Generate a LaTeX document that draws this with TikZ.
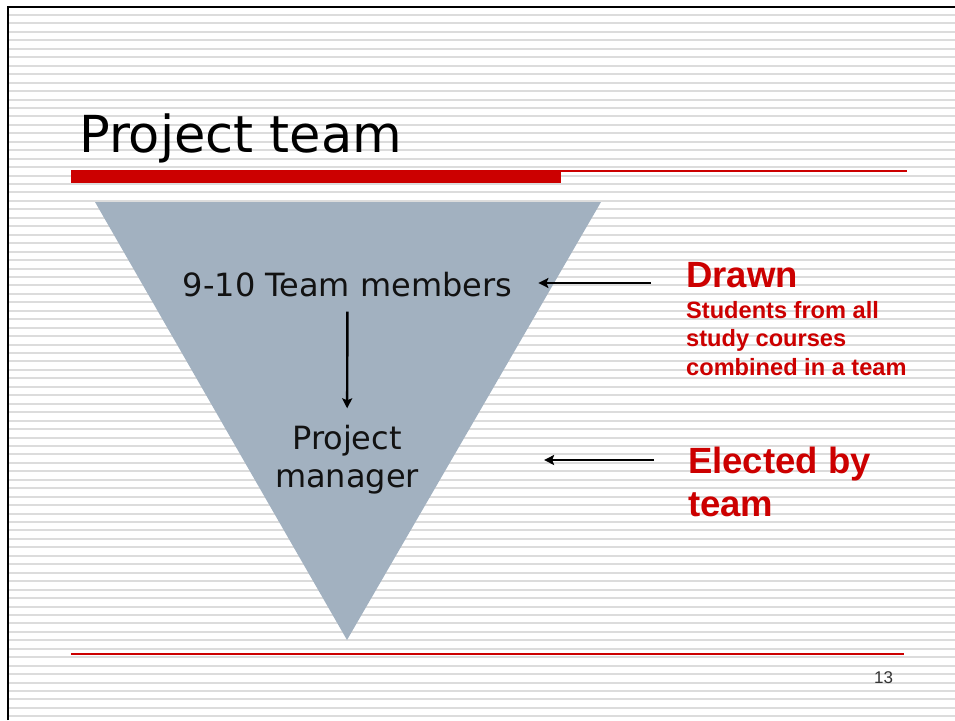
\documentclass[tikz,border=0pt]{standalone}
\usepackage{fontspec}
\setmainfont{DejaVu Sans}
\newfontfamily\arialfont{Liberation Sans}
\usetikzlibrary{arrows.meta}
\definecolor{slidered}{HTML}{CC0000}
\definecolor{stripegray}{HTML}{DCDCDC}
\definecolor{funnel}{HTML}{A2B1C0}
\begin{document}
\begin{tikzpicture}[x=1pt,y=-1pt,
    member/.style={inner sep=0pt,text=black!93,font=\fontsize{32}{38}\selectfont},
    note/.style={inner sep=0pt,anchor=base west,text=slidered,align=left},
    arr/.style={line width=2.4pt,-{Stealth[length=10pt,width=10pt,inset=2pt]}}]
  \useasboundingbox (0,0) rectangle (955,720);
  \fill[white] (0,0) rectangle (955,720);
  % background stripes
  \foreach \i in {0,...,83} {
    \fill[stripegray] (9,{15+\i*8.45-1}) rectangle (955,{15+\i*8.45+1});
  }
  \draw[line width=2.2pt] (8,720) -- (8,7) -- (955,7);

  % title and rules
  \node[anchor=base west,inner sep=0pt,font=\fontsize{51}{60}\selectfont] (title) at (79,152) {Project team};
  \fill[slidered] (71,170) rectangle (561,183);
  \draw[slidered,line width=1.5pt] (561,171) -- (907,171);
  \draw[slidered,line width=1.5pt] (71,654) -- (904,654);

  % funnel
  \fill[funnel] (95,202) -- (601,202) -- (347,640) -- cycle;
  \node[member,anchor=base] (team) at (347.5,296) {9-10 Team members};
  \node[member,align=center] (pm) at (347,460) {Project\\manager};
  \draw[arr,shorten <=15pt,shorten >=17pt] (team) -- (pm);

  % notes on the right (base = last line)
  \node[note,font=\arialfont\bfseries\fontsize{36.5}{43}\selectfont] (drawn) at (686,287) {Drawn};
  \node[note,font=\arialfont\bfseries\fontsize{23.6}{28.5}\selectfont] (students) at (686,375)
    {Students from all\\study courses\\combined in a team};
  \node[note,font=\arialfont\bfseries\fontsize{36.5}{43}\selectfont] (elected) at (688,516) {Elected by\\team};
  \coordinate (drawnfrom) at (651,283);
  \coordinate (electedfrom) at (654,460);
  \draw[arr,shorten >=26pt] (drawnfrom) -- (team.east |- drawnfrom);
  \draw[arr,shorten >=125pt] (electedfrom) -- (pm.east |- electedfrom);

  \node[anchor=base,inner sep=0pt,text=black!80,font=\arialfont\fontsize{17}{20}\selectfont] (page) at (883.5,683) {13};
\end{tikzpicture}
\end{document}
